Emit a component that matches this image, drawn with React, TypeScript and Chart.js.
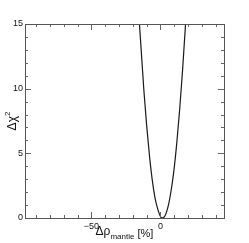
import React, { useEffect, useRef } from "react";
import { Chart, registerables } from "chart.js";

Chart.register(...registerables);

const xValues = [-17, -15, -12, -10, -8, -6, -4, -2, 0, 1, 2, 3, 4, 6, 8, 10, 12, 14, 16, 18, 20];
const chi2Values = [18.4, 14.7, 9.9, 7.2, 4.9, 3.0, 1.6, 0.7, 0.12, 0.01, 0.01, 0.12, 0.34, 1.1, 2.3, 3.9, 6.0, 8.5, 11.4, 14.7, 18.5];
const xTickLabels = [-50, 0];
const yTickLabels = [0, 5, 10, 15];
const xMinorTicks = [-90, -80, -70, -60, -50, -40, -30, -20, -10, 0, 10, 20, 30, 40];
const yMinorTicks = [1, 2, 3, 4, 5, 6, 7, 8, 9, 10, 11, 12, 13, 14];

const FONT = '"Liberation Sans", Arial, sans-serif';

const framePlugin = {
  id: "frame",
  afterDraw(chart: any) {
    const ctx = chart.ctx;
    const { left, right, top, bottom } = chart.chartArea;
    const xs = chart.scales.x;
    const ys = chart.scales.y;
    ctx.save();
    ctx.strokeStyle = "#666";
    ctx.lineWidth = 1;
    ctx.beginPath();
    for (const v of xMinorTicks) {
      const px = Math.round(xs.getPixelForValue(v)) + 0.5;
      const len = xTickLabels.includes(v) ? 6 : 3;
      ctx.moveTo(px, bottom);
      ctx.lineTo(px, bottom - len);
      ctx.moveTo(px, top);
      ctx.lineTo(px, top + len);
    }
    for (const v of yMinorTicks) {
      const py = Math.round(ys.getPixelForValue(v)) + 0.5;
      const len = yTickLabels.includes(v) ? 6 : 3;
      ctx.moveTo(left, py);
      ctx.lineTo(left + len, py);
      ctx.moveTo(right, py);
      ctx.lineTo(right - len, py);
    }
    ctx.stroke();
    ctx.strokeStyle = "#555";
    ctx.strokeRect(Math.round(left) + 0.5, Math.round(top) + 0.5, Math.round(right - left), Math.round(bottom - top));

    // X axis title
    ctx.fillStyle = "#111";
    ctx.textBaseline = "alphabetic";
    ctx.textAlign = "left";
    const p1 = "\u0394\u03c1";
    const p2 = "mantle";
    const p3 = " [%]";
    ctx.font = `12px ${FONT}`;
    const w1 = ctx.measureText(p1).width;
    ctx.font = `8px ${FONT}`;
    const w2 = ctx.measureText(p2).width;
    ctx.font = `11px ${FONT}`;
    const w3 = ctx.measureText(p3).width;
    const cx = (left + right) / 2;
    let x0 = cx - (w1 + w2 + w3) / 2;
    ctx.font = `12px ${FONT}`;
    ctx.fillText(p1, x0, 235);
    ctx.font = `8px ${FONT}`;
    ctx.fillText(p2, x0 + w1, 239);
    ctx.font = `11px ${FONT}`;
    ctx.fillText(p3, x0 + w1 + w2, 237);

    // Y axis title
    const cy = (top + bottom) / 2;
    ctx.translate(16, cy);
    ctx.rotate(-Math.PI / 2);
    ctx.font = `12px ${FONT}`;
    const t1 = "\u0394\u03c7";
    const tw1 = ctx.measureText(t1).width;
    ctx.font = `8px ${FONT}`;
    const tw2 = ctx.measureText("2").width;
    const sx = -(tw1 + tw2) / 2;
    ctx.font = `12px ${FONT}`;
    ctx.fillText(t1, sx, 0);
    ctx.font = `8px ${FONT}`;
    ctx.fillText("2", sx + tw1, -6);
    ctx.restore();
  },
};

export default function App() {
  const ref = useRef<HTMLCanvasElement>(null);
  useEffect(() => {
    if (!ref.current) return;
    const chart = new Chart(ref.current, {
      type: "line",
      data: {
        datasets: [
          {
            data: xValues.map((x, i) => ({ x, y: chi2Values[i] })),
            borderColor: "#1a1a1a",
            borderWidth: 1.2,
            pointRadius: 0,
            cubicInterpolationMode: "monotone",
            fill: false,
          },
        ],
      },
      options: {
        animation: false,
        responsive: false,
        maintainAspectRatio: false,
        layout: { padding: { top: 24, right: 25, left: 0, bottom: 0 } },
        plugins: { legend: { display: false }, tooltip: { enabled: false } },
        scales: {
          x: {
            type: "linear",
            min: -98,
            max: 46,
            border: { display: false },
            grid: { display: false, drawTicks: false },
            afterBuildTicks: (s: any) => {
              s.ticks = xTickLabels.map((v) => ({ value: v }));
            },
            afterFit: (s: any) => {
              s.height = 25;
            },
            ticks: {
              padding: 3,
              color: "#111",
              font: { family: FONT, size: 9 },
              maxRotation: 0,
              callback: (v: any) => (v < 0 ? "\u2212" + Math.abs(v) : String(v)),
            },
          },
          y: {
            type: "linear",
            min: 0,
            max: 15,
            border: { display: false },
            grid: { display: false, drawTicks: false },
            afterBuildTicks: (s: any) => {
              s.ticks = yTickLabels.map((v) => ({ value: v }));
            },
            afterFit: (s: any) => {
              s.width = 25;
            },
            ticks: {
              padding: 2,
              color: "#111",
              font: { family: FONT, size: 9 },
            },
          },
        },
      },
      plugins: [framePlugin],
    });
    return () => chart.destroy();
  }, []);
  return (
    <div style={{ position: "fixed", left: 0, top: 0, width: 249, height: 243, background: "#fff" }}>
      <canvas ref={ref} width={249} height={243} />
    </div>
  );
}
